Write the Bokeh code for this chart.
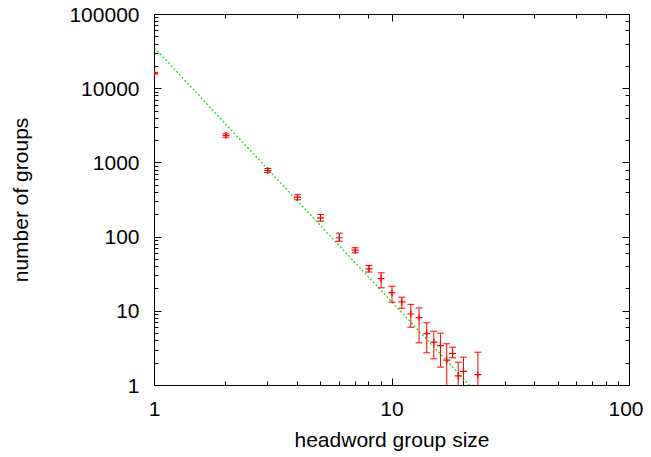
from bokeh.plotting import figure
from bokeh.models import LogAxis, NumeralTickFormatter, CustomJSTickFormatter, ColumnDataSource
from bokeh.embed import file_html
from bokeh.resources import INLINE

# data
group_size = [1, 2, 3, 4, 5, 6, 7, 8, 9, 10, 11, 12, 13, 14, 15, 16, 17, 18, 19, 20, 23]
num_groups = [16200, 2340, 790, 345, 182, 98, 66.6, 37.4, 27.6, 17.8, 13.4, 9.2, 8.2,
              5.0, 3.84, 3.45, 2.2, 2.7, 1.35, 1.55, 1.4]
err_low = [15800, 2220, 745, 318, 164, 88, 61.4, 33.8, 20.7, 13.3, 11.0, 6.1, 3.76,
           2.76, 2.29, 1.77, 0.3, 2.36, 0.3, 0.3, 0.3]
err_high = [16600, 2466, 840, 372, 202, 113, 71.8, 41.5, 33.0, 21.8, 15.5, 12.4, 11.1,
            7.0, 5.4, 5.07, 3.65, 3.28, 2.06, 2.41, 2.81]
fit_x = [1, 22]
fit_y = [35500, 0.89]

FONT = "Liberation Sans"
FS = "21px"

p = figure(x_axis_type="log", y_axis_type="log",
           x_range=(1, 100), y_range=(1, 100000),
           frame_width=475, frame_height=371,
           min_border_left=154, min_border_top=14, min_border_right=14, min_border_bottom=60,
           output_backend="svg", toolbar_location=None,
           background_fill_color="white", border_fill_color="white")
p.grid.visible = False
p.outline_line_color = "black"
p.outline_line_width = 1

for ax in (p.xaxis[0], p.yaxis[0]):
    ax.axis_line_color = None
    ax.major_tick_in = 7
    ax.major_tick_out = 0
    ax.minor_tick_in = 4
    ax.minor_tick_out = 0
    ax.major_tick_line_color = "black"
    ax.minor_tick_line_color = "black"
    ax.major_label_text_font = FONT
    ax.major_label_text_font_size = FS
    ax.major_label_text_color = "black"
    ax.axis_label_text_font = FONT
    ax.axis_label_text_font_size = FS
    ax.axis_label_text_font_style = "normal"
    ax.axis_label_text_color = "black"
    ax.formatter = NumeralTickFormatter(format="0")

p.xaxis[0].axis_label = "headword group size"
p.yaxis[0].axis_label = "number of groups"
p.xaxis[0].major_label_standoff = 16
p.yaxis[0].major_label_standoff = 15
p.xaxis[0].axis_label_standoff = 9
p.yaxis[0].axis_label_standoff = 34

for loc in ("right", "above"):
    ax = LogAxis()
    ax.axis_line_color = None
    ax.major_tick_in = 7
    ax.major_tick_out = 0
    ax.minor_tick_in = 4
    ax.minor_tick_out = 0
    ax.major_tick_line_color = "black"
    ax.minor_tick_line_color = "black"
    ax.formatter = CustomJSTickFormatter(code="return ''")
    ax.major_label_standoff = 0
    p.add_layout(ax, loc)

p.line(fit_x, fit_y, line_color="#00e600", line_width=1.2, line_dash="2 2")

src = ColumnDataSource(dict(x=group_size, y=num_groups, lo=err_low, hi=err_high))
p.segment(x0="x", y0="lo", x1="x", y1="hi", source=src, line_color="red", line_width=1)
p.scatter(x="x", y="lo", source=src, marker="dash", size=7, line_color="red", line_width=1)
p.scatter(x="x", y="hi", source=src, marker="dash", size=7, line_color="red", line_width=1)
p.scatter(x="x", y="y", source=src, marker="cross", size=7, line_color="red", line_width=1.2)

open("out.html", "w").write(file_html(p, INLINE))
